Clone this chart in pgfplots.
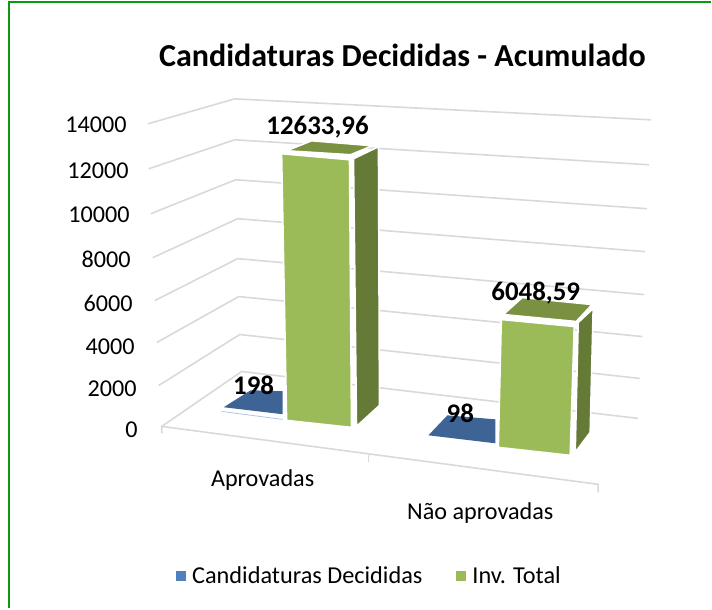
\documentclass[border=0pt]{standalone}
\usepackage{pgfplots}
\pgfplotsset{compat=1.18}
\usepackage{fontspec}
\setmainfont{Carlito}
\definecolor{gridc}{HTML}{D9D9D9}
\definecolor{frame}{HTML}{0E9A0E}
\definecolor{bluetop}{HTML}{3E6495}
\definecolor{bluekey}{HTML}{4F81BD}
\definecolor{greenfront}{HTML}{9BBB59}
\definecolor{greentop}{HTML}{7A9142}
\definecolor{greenside}{HTML}{667A37}
\newcommand{\fs}[1]{\fontsize{#1}{#1}\selectfont}
% pixel height per unit of value
\newcommand{\kv}{0.0212}
\pgfplotsset{
  face/.style={fill=#1, draw=white, line width=1.6bp, line join=round, forget plot},
  grid3d/.style={draw=gridc, line width=1.6bp, forget plot},
}
\newcommand{\barface}[2]{%
  \addplot[face=#1] table[row sep=\\, x=px, y expr=\thisrow{base}-\kv*\thisrow{value}] {px base value\\ #2} -- cycle;}
\begin{document}
\begin{tikzpicture}
\begin{axis}[
  width=712bp, height=609bp, scale only axis,
  xmin=0, xmax=712, ymin=0, ymax=609, y dir=reverse,
  hide axis, clip=false,
  legend style={at={(axis cs:370,577)}, anchor=center, draw=none, fill=none,
    legend columns=2, font=\fs{24.4},
    /tikz/every even column/.append style={column sep=32bp}},
  legend cell align=left,
  legend image code/.code={\fill[#1] (0bp,-5bp) rectangle (10bp,5bp); \path (14bp,0bp);},
]
% keep the full page size
\path (axis cs:0,0) rectangle (axis cs:712,609);
% outer frame, only left and top show
\addplot[draw=frame, line width=2bp, forget plot] coordinates {(9,609) (9,2.5) (712,2.5)};

% side wall and back wall gridlines, 14000 down to 0
\addplot[grid3d] coordinates {(148,124) (235,99) (652,120)};
\addplot[grid3d] coordinates {(149,169) (235,140) (650,165)};
\addplot[grid3d] coordinates {(151,214) (236,180) (648,209)};
\addplot[grid3d] coordinates {(153,258) (238,219) (646,252)};
\addplot[grid3d] coordinates {(155,301) (238,259) (645,295)};
\addplot[grid3d] coordinates {(157,343) (239,297) (643,337)};
\addplot[grid3d] coordinates {(159,386) (240,335) (641,379)};
\addplot[grid3d] coordinates {(162,427) (242,372) (639,419)};
% floor front edge with ticks
\addplot[grid3d] coordinates {(162,434) (162,427) (599,485) (599,493)};
\addplot[grid3d] coordinates {(369,456) (369,463)};

% Candidaturas Decididas
\addplot[draw=bluekey!45, line width=0.8bp, forget plot] coordinates {(222,412) (283,420)};
\addplot[fill=bluetop, draw=none, forget plot] table[row sep=\\, x=px, y expr=\thisrow{base}-\kv*\thisrow{value}] {px base value\\ 224 412 198\\ 251 395 198\\ 283 396 198\\ 283 419 198\\} -- cycle;
\addplot[fill=bluetop, draw=none, forget plot] table[row sep=\\, x=px, y expr=\thisrow{base}-\kv*\thisrow{value}] {px base value\\ 429 438 98\\ 448 418 98\\ 496 422 98\\ 496 446 98\\} -- cycle;

% Inv. Total, Aprovadas
\barface{greentop}{287 418.8 12633.96\\ 312 408.8 12633.96\\ 373 413.8 12633.96\\ 351 422.8 12633.96\\}
\barface{greenside}{379 414.8 12633.96\\ 354 426.8 12633.96\\ 357 427 0\\ 380 406 0\\}
\barface{greenfront}{282 421.8 12633.96\\ 350 427.8 12633.96\\ 352 428 0\\ 287 421 0\\}
% Inv. Total, Nao aprovadas
\barface{greentop}{504 443.2 6048.59\\ 523 426.2 6048.59\\ 593 433.2 6048.59\\ 577 450.2 6048.59\\}
\barface{greenside}{594 437.2 6048.59\\ 579 451.2 6048.59\\ 576 453 0\\ 591 433 0\\}
\barface{greenfront}{502 448.2 6048.59\\ 575 455.2 6048.59\\ 571 456 0\\ 499 448 0\\}

% legend keys only
\addplot[fill=bluekey, draw=none] coordinates {(370,575)};
\addlegendentry{Candidaturas Decididas}
\addplot[fill=greenfront, draw=none] coordinates {(370,575)};
\addlegendentry{Inv. Total}

% title
\node[font=\fs{32.2}\bfseries] at (axis cs:403,55) {Candidaturas Decididas - Acumulado};
% value axis labels
\node[anchor=east, inner sep=0pt, font=\fs{24.3}] at (axis cs:127,125) {14000};
\node[anchor=east, inner sep=0pt, font=\fs{24.3}] at (axis cs:129,171) {12000};
\node[anchor=east, inner sep=0pt, font=\fs{24.3}] at (axis cs:130,215) {10000};
\node[anchor=east, inner sep=0pt, font=\fs{24.3}] at (axis cs:131,260) {8000};
\node[anchor=east, inner sep=0pt, font=\fs{24.3}] at (axis cs:133,304) {6000};
\node[anchor=east, inner sep=0pt, font=\fs{24.3}] at (axis cs:135,347) {4000};
\node[anchor=east, inner sep=0pt, font=\fs{24.3}] at (axis cs:137,389) {2000};
\node[anchor=east, inner sep=0pt, font=\fs{24.3}] at (axis cs:138,430) {0};
% categories
\node[font=\fs{24.3}] at (axis cs:263,481) {Aprovadas};
\node[font=\fs{24.3}] at (axis cs:481,514) {Não aprovadas};
% data labels
\node[font=\fs{27}\bfseries] at (axis cs:318,127) {12633,96};
\node[font=\fs{27}\bfseries] at (axis cs:536.5,293) {6048,59};
\node[font=\fs{27}\bfseries] at (axis cs:254,386) {198};
\node[font=\fs{27}\bfseries] at (axis cs:461,414) {98};
\end{axis}
\end{tikzpicture}
\end{document}
